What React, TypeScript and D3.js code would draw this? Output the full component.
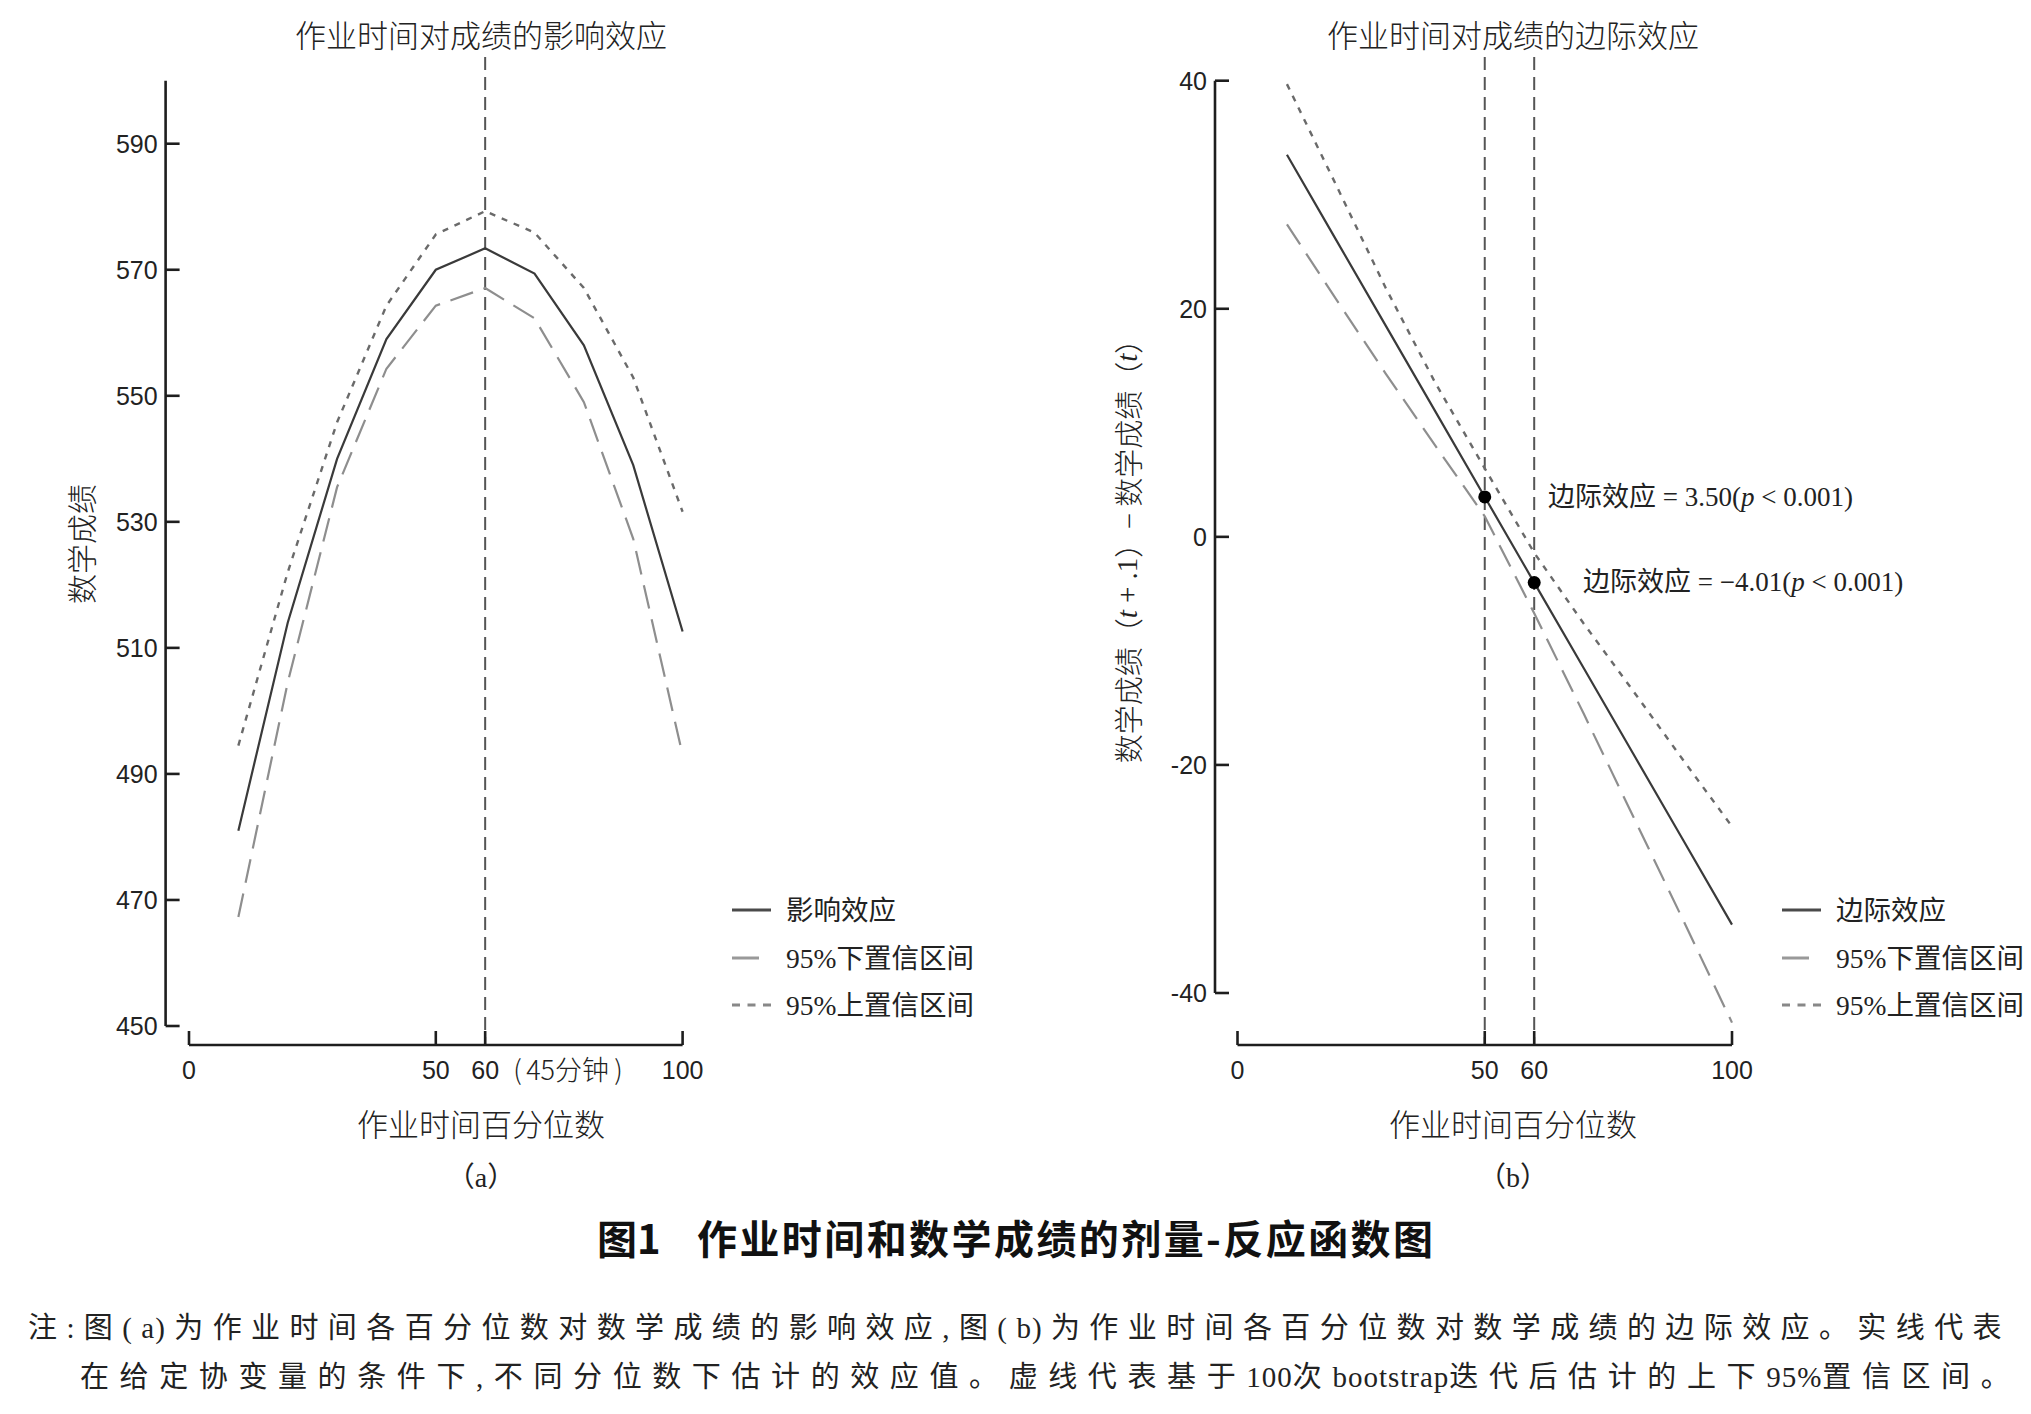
import React from "react";
import * as d3 from "d3";

// ---------- data ----------
const percentiles = [10, 20, 30, 40, 50, 60, 70, 80, 90, 100];

// panel (a): effect of homework time on math score
const effectA = [481, 514, 540, 559, 570, 573.4, 569.4, 558, 539, 512.6];
const lowerA = [467.3, 504.5, 535.5, 554.3, 564.3, 567.1, 562.3, 549, 527.3, 493];
const upperA = [494.5, 522, 545.8, 564.3, 575.6, 579.3, 575.9, 567.1, 552.9, 531.6];

// panel (b): marginal effect
const effectB = [33.5, 26, 18.5, 11, 3.5, -4.01, -11.5, -19, -26.5, -34];
const lowerB = [27.4, 20.8, 14.3, 8, 1.8, -6.7, -15.5, -24.5, -33.5, -42.6];
const upperB = [39.7, 30.8, 21.8, 13.5, 6.0, -1.4, -7.6, -13.5, -19.5, -25.4];

const yTicksA = [450, 470, 490, 510, 530, 550, 570, 590];
const yTicksB = [-40, -20, 0, 20, 40];
const xTicks = [0, 50, 60, 100];
const refLinesA = [60];
const refLinesB = [50, 60];
const markerX = [50, 60];
const markerY = [3.5, -4.01];
const markerLabels = ["3.50", "\u22124.01"];

const legendA = ["影响效应", "95%下置信区间", "95%上置信区间"];
const legendB = ["边际效应", "95%下置信区间", "95%上置信区间"];

const titleA = "作业时间对成绩的影响效应";
const titleB = "作业时间对成绩的边际效应";
const xTitle = "作业时间百分位数";
const yTitleA = "数学成绩";
const minutesLabel = "45分钟";
const caption = "作业时间和数学成绩的剂量-反应函数图";
const note1 = "注:图(a)为作业时间各百分位数对数学成绩的影响效应,图(b)为作业时间各百分位数对数学成绩的边际效应。实线代表";
const note2 = "在给定协变量的条件下,不同分位数下估计的效应值。虚线代表基于100次bootstrap迭代后估计的上下95%置信区间。";

// ---------- styles ----------
const NUM = "'Liberation Sans', Arial, sans-serif";
const CJK = "'Noto Sans CJK SC', sans-serif";
const SERIF = "'Liberation Serif', 'Noto Sans CJK SC', serif";
const AX = "#1e1e1e";
const C_SOLID = "#3a3a3a";
const C_LOW = "#8e8e8e";
const C_UP = "#6a6a6a";
const C_REF = "#555";

const seriesStyles = [
  { stroke: C_SOLID, dash: undefined as string | undefined, w: 2.2 },
  { stroke: C_LOW, dash: "24,11", w: 2.2 },
  { stroke: C_UP, dash: "6,7", w: 2.4 },
];

type PanelProps = {
  axisX: number;
  x0: number;
  x1: number;
  yDomain: [number, number];
  yRange: [number, number];
  yTicks: number[];
  series: number[][];
  refLines: number[];
  legend: string[];
  legendX: number;
  title: string;
  titleX: number;
  letter: string;
};

const X_AXIS_Y = 1045;
const REF_TOP = 57;

function Panel(p: PanelProps) {
  const x = d3.scaleLinear().domain([0, 100]).range([p.x0, p.x1]);
  const y = d3.scaleLinear().domain(p.yDomain).range(p.yRange);
  const line = d3
    .line<number>()
    .x((_, i) => x(percentiles[i]))
    .y((d) => y(d));
  const legendRows = [910, 958, 1005];
  return (
    <g>
      <text x={p.titleX} y={33} textAnchor="middle" dominantBaseline="central" fontFamily={CJK} fontWeight={300} fontSize={31} fill="#222">
        {p.title}
      </text>
      {p.refLines.map((r) => (
        <line key={r} x1={x(r)} x2={x(r)} y1={REF_TOP} y2={X_AXIS_Y} stroke={C_REF} strokeWidth={2} strokeDasharray="13,7" />
      ))}
      <line x1={p.axisX} x2={p.axisX} y1={y(p.yDomain[1])} y2={y(p.yDomain[0])} stroke={AX} strokeWidth={2.6} />
      {p.yTicks.map((t) => (
        <g key={t}>
          <line x1={p.axisX} x2={p.axisX + 14} y1={y(t)} y2={y(t)} stroke={AX} strokeWidth={2.6} />
          <text x={p.axisX - 8} y={y(t) + 9} textAnchor="end" fontFamily={NUM} fontSize={25} fill="#222">
            {t}
          </text>
        </g>
      ))}
      <line x1={x(0)} x2={x(100)} y1={X_AXIS_Y} y2={X_AXIS_Y} stroke={AX} strokeWidth={2.6} />
      {xTicks.map((t) => (
        <g key={t}>
          <line x1={x(t)} x2={x(t)} y1={X_AXIS_Y} y2={X_AXIS_Y - 14} stroke={AX} strokeWidth={2.6} />
          <text x={x(t)} y={1079} textAnchor="middle" fontFamily={NUM} fontSize={25} fill="#222">
            {t}
          </text>
        </g>
      ))}
      {p.series.map((s, i) => (
        <path key={i} d={line(s) || ""} fill="none" stroke={seriesStyles[i].stroke} strokeWidth={seriesStyles[i].w} strokeDasharray={seriesStyles[i].dash} />
      ))}
      {p.legend.map((lab, i) => (
        <g key={lab}>
          {i === 0 && <line x1={p.legendX} x2={p.legendX + 39} y1={legendRows[i]} y2={legendRows[i]} stroke="#4a4a4a" strokeWidth={3} />}
          {i === 1 && <line x1={p.legendX} x2={p.legendX + 27} y1={legendRows[i]} y2={legendRows[i]} stroke="#999" strokeWidth={3} />}
          {i === 2 && <line x1={p.legendX} x2={p.legendX + 39} y1={legendRows[i]} y2={legendRows[i]} stroke="#888" strokeWidth={3} strokeDasharray="8,7.5" />}
          <text x={p.legendX + 54} y={legendRows[i]} dominantBaseline="central" fontFamily={SERIF} fontSize={27.5} fill="#222">
            {lab}
          </text>
        </g>
      ))}
      <text x={p.titleX} y={1122} textAnchor="middle" dominantBaseline="central" fontFamily={CJK} fontWeight={300} fontSize={31} fill="#222">
        {xTitle}
      </text>
      <text x={p.titleX} y={1177} textAnchor="middle" dominantBaseline="central" fontFamily={SERIF} fontSize={28} fill="#222">
        {p.letter}
      </text>
    </g>
  );
}

// split a note line into CJK / Latin runs so only CJK runs get extra spacing
function NoteLine({ text, x, y, spacing }: { text: string; x: number; y: number; spacing: number }) {
  const runs = text.match(/[A-Za-z0-9%]+|[^A-Za-z0-9%]+/g) || [];
  return (
    <text x={x} y={y} dominantBaseline="central" fontFamily={SERIF} fontSize={29} fill="#222">
      {runs.map((r, i) => {
        const latin = /^[A-Za-z0-9%]+$/.test(r);
        return (
          <tspan key={i} style={{ letterSpacing: latin ? "1px" : `${spacing}px` }}>
            {r}
          </tspan>
        );
      })}
    </text>
  );
}

export default function App() {
  const xB = d3.scaleLinear().domain([0, 100]).range([1237.5, 1732]);
  const yB = d3.scaleLinear().domain([-40, 40]).range([993, 80.7]);
  const xA = d3.scaleLinear().domain([0, 100]).range([189, 682.6]);
  const labelPos = [
    [1548, 497],
    [1583, 582],
  ];
  const mX = xA(60);
  return (
    <svg width={2031} height={1414} style={{ position: "absolute", left: 0, top: 0, background: "#fff" }}>
      <rect x={0} y={0} width={2031} height={1414} fill="#fff" />
      <Panel
        axisX={165.6}
        x0={189}
        x1={682.6}
        yDomain={[450, 600]}
        yRange={[1026, 80.7]}
        yTicks={yTicksA}
        series={[effectA, lowerA, upperA]}
        refLines={refLinesA}
        legend={legendA}
        legendX={732}
        title={titleA}
        titleX={481}
        letter="（a）"
      />
      <g fontFamily={CJK} fontWeight={300} fontSize={27} fill="#222">
        <text x={mX + 28} y={1068} dominantBaseline="central">(</text>
        <text x={mX + 41} y={1068} dominantBaseline="central">{minutesLabel}</text>
        <text x={mX + 129} y={1068} dominantBaseline="central">)</text>
      </g>
      <text transform="translate(80,544) rotate(-90)" textAnchor="middle" dominantBaseline="central" fontFamily={CJK} fontWeight={300} fontSize={30} fill="#222">
        {yTitleA}
      </text>

      <Panel
        axisX={1215}
        x0={1237.5}
        x1={1732}
        yDomain={[-40, 40]}
        yRange={[993, 80.7]}
        yTicks={yTicksB}
        series={[effectB, lowerB, upperB]}
        refLines={refLinesB}
        legend={legendB}
        legendX={1782}
        title={titleB}
        titleX={1513}
        letter="（b）"
      />
      <text transform="translate(1127,544) rotate(-90)" textAnchor="middle" dominantBaseline="central" fontFamily={CJK} fontWeight={300} fontSize={29} fill="#222">
        数学成绩（<tspan fontFamily={SERIF} fontStyle="italic">t</tspan>
        <tspan fontFamily={SERIF}> + .1</tspan>）− 数学成绩（<tspan fontFamily={SERIF} fontStyle="italic">t</tspan>）
      </text>
      {markerX.map((m, i) => (
        <g key={m}>
          <circle cx={xB(m)} cy={yB(markerY[i])} r={6.5} fill="#000" />
          <text x={labelPos[i][0]} y={labelPos[i][1]} dominantBaseline="central" fontFamily={SERIF} fontSize={27} fill="#222">
            边际效应 = {markerLabels[i]}(<tspan fontStyle="italic">p</tspan> &lt; 0.001)
          </text>
        </g>
      ))}

      <text x={597} y={1237} dominantBaseline="central" fontFamily={CJK} fontWeight={700} fontSize={40} fill="#111">
        图1
      </text>
      <text x={697} y={1237} dominantBaseline="central" fontFamily={CJK} fontWeight={700} fontSize={40} fill="#111" textLength={736} lengthAdjust="spacing">
        {caption}
      </text>
      <NoteLine text={note1} x={28} y={1328} spacing={9.4} />
      <NoteLine text={note2} x={80} y={1377} spacing={10.6} />
    </svg>
  );
}
